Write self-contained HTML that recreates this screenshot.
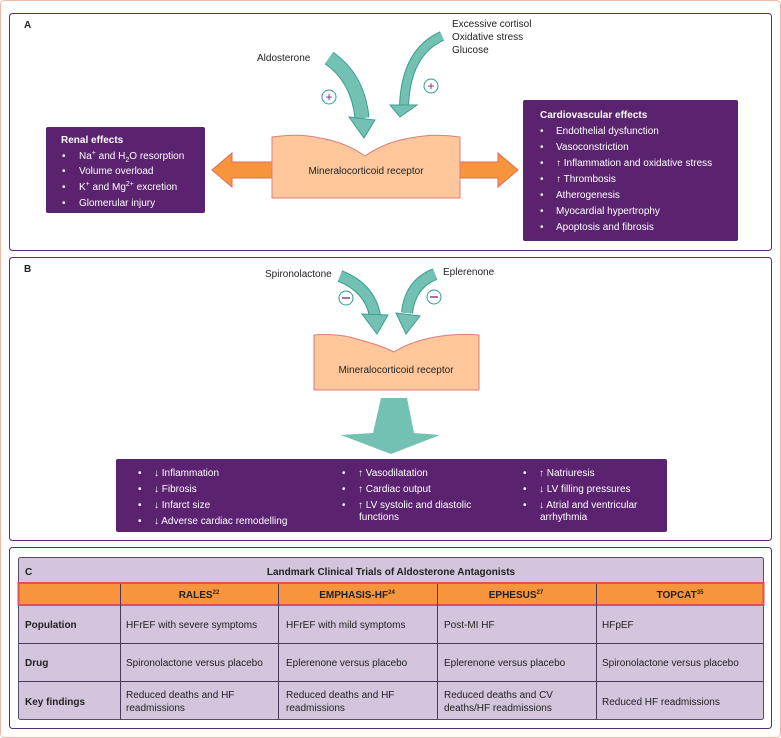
<!DOCTYPE html>
<html><head><meta charset="utf-8"><style>
html,body{margin:0;padding:0;background:#fff}
svg{display:block;font-family:"Liberation Sans",sans-serif;font-size:10px;fill:#222}
.w{fill:#fff}
.b{font-weight:bold}
</style></head><body>
<svg width="781" height="738" viewBox="0 0 781 738" xmlns="http://www.w3.org/2000/svg">
<rect x="0.5" y="0.5" width="780" height="737" rx="4" fill="#fff" stroke="#f0b8a8"/>
<!-- panels -->
<rect x="9.5" y="13.5" width="762" height="237" rx="3" fill="#fff" stroke="#5b2d6e"/>
<rect x="9.5" y="257.5" width="762" height="283" rx="3" fill="#fff" stroke="#5b2d6e"/>
<rect x="9.5" y="547.5" width="762" height="181" rx="3" fill="#fff" stroke="#5b2d6e"/>

<!-- PANEL A -->
<text x="24" y="28" class="b">A</text>
<text x="452" y="27">Excessive cortisol</text>
<text x="452" y="40">Oxidative stress</text>
<text x="452" y="53">Glucose</text>
<text x="257" y="61">Aldosterone</text>
<!-- aldo arrow -->
<path d="M329,58 Q358,78 362,118" fill="none" stroke="#3d9e8f" stroke-width="15"/>
<path d="M329,58 Q358,78 362,118" fill="none" stroke="#72c1b3" stroke-width="13"/>
<polygon points="349,117 375,120 364,138" fill="#72c1b3" stroke="#3d9e8f"/>
<!-- cortisol arrow -->
<path d="M442,36 Q406,52 404,106" fill="none" stroke="#3d9e8f" stroke-width="10"/>
<path d="M442,36 Q406,52 404,106" fill="none" stroke="#72c1b3" stroke-width="8"/>
<polygon points="390,105 417,105 400,117" fill="#72c1b3" stroke="#3d9e8f"/>
<circle cx="329" cy="97" r="7" fill="#fff" stroke="#2a9d8f"/>
<text x="329" y="101" text-anchor="middle" fill="#6b2a7a" font-size="12">+</text>
<circle cx="431" cy="86" r="7" fill="#fff" stroke="#2a9d8f"/>
<text x="431" y="90" text-anchor="middle" fill="#6b2a7a" font-size="12">+</text>
<!-- side arrows -->
<polygon points="274,162 232,162 232,153 212,170 232,187 232,178 274,178" fill="#f7943c" stroke="#e06a5a"/>
<polygon points="458,162 498,162 498,153 518,170 498,187 498,178 458,178" fill="#f7943c" stroke="#e06a5a"/>
<!-- MR box -->
<path d="M272,137 Q300,133 320,138 Q345,142 365,156 Q385,142 410,138 Q435,133 460,137 L460,198 L272,198 Z" fill="#fdc79b" stroke="#e07b7b"/>
<text x="366" y="174" text-anchor="middle">Mineralocorticoid receptor</text>
<!-- renal -->
<rect x="46" y="127" width="159" height="86" rx="2" fill="#5b2270"/>
<text x="61" y="143" class="w b">Renal effects</text>
<g class="w">
<text x="62" y="159">•</text><text x="79" y="159">Na<tspan font-size="7" dy="-4">+</tspan><tspan dy="4"> and H</tspan><tspan font-size="7" dy="3">2</tspan><tspan dy="-3">O resorption</tspan></text>
<text x="62" y="174">•</text><text x="79" y="174">Volume overload</text>
<text x="62" y="190">•</text><text x="79" y="190">K<tspan font-size="7" dy="-4">+</tspan><tspan dy="4"> and Mg</tspan><tspan font-size="7" dy="-4">2+</tspan><tspan dy="4"> excretion</tspan></text>
<text x="62" y="206">•</text><text x="79" y="206">Glomerular injury</text>
</g>
<!-- cardio -->
<rect x="523" y="100" width="215" height="141" rx="2" fill="#5b2270"/>
<text x="540" y="118" class="w b">Cardiovascular effects</text>
<g class="w">
<text x="540" y="134">•</text><text x="556" y="134">Endothelial dysfunction</text>
<text x="540" y="150">•</text><text x="556" y="150">Vasoconstriction</text>
<text x="540" y="166">•</text><text x="556" y="166">↑ Inflammation and oxidative stress</text>
<text x="540" y="182">•</text><text x="556" y="182">↑ Thrombosis</text>
<text x="540" y="198">•</text><text x="556" y="198">Atherogenesis</text>
<text x="540" y="214">•</text><text x="556" y="214">Myocardial hypertrophy</text>
<text x="540" y="230">•</text><text x="556" y="230">Apoptosis and fibrosis</text>
</g>

<!-- PANEL B -->
<text x="24" y="272" class="b">B</text>
<text x="265" y="277">Spironolactone</text>
<text x="443" y="275">Eplerenone</text>
<path d="M340,276 Q370,288 375,316" fill="none" stroke="#3d9e8f" stroke-width="12"/>
<path d="M340,276 Q370,288 375,316" fill="none" stroke="#72c1b3" stroke-width="10"/>
<polygon points="362,314 388,315 377,334" fill="#72c1b3" stroke="#3d9e8f"/>
<path d="M435,274 Q410,284 407,313" fill="none" stroke="#3d9e8f" stroke-width="12"/>
<path d="M435,274 Q410,284 407,313" fill="none" stroke="#72c1b3" stroke-width="10"/>
<polygon points="396,313 420,316 406,334" fill="#72c1b3" stroke="#3d9e8f"/>
<circle cx="346" cy="298" r="7" fill="#fff" stroke="#2a9d8f"/>
<line x1="342" y1="298" x2="350" y2="298" stroke="#6b2a7a" stroke-width="1.3"/>
<circle cx="434" cy="297" r="7" fill="#fff" stroke="#2a9d8f"/>
<line x1="430" y1="297" x2="438" y2="297" stroke="#6b2a7a" stroke-width="1.3"/>
<path d="M314,335 Q340,333 360,340 Q380,345 394,352 Q408,343 430,338 Q455,333 479,335 L479,390 L314,390 Z" fill="#fdc79b" stroke="#e07b7b"/>
<text x="396" y="373" text-anchor="middle">Mineralocorticoid receptor</text>
<polygon points="381,398 407,398 414,433 440,435 391,454 341,435 373,433" fill="#72c1b3"/>
<rect x="116" y="459" width="551" height="73" rx="2" fill="#5b2270"/>
<g class="w">
<text x="138" y="476">•</text><text x="154" y="476">↓ Inflammation</text>
<text x="138" y="492">•</text><text x="154" y="492">↓ Fibrosis</text>
<text x="138" y="508">•</text><text x="154" y="508">↓ Infarct size</text>
<text x="138" y="524">•</text><text x="154" y="524">↓ Adverse cardiac remodelling</text>
<text x="342" y="476">•</text><text x="358" y="476">↑ Vasodilatation</text>
<text x="342" y="492">•</text><text x="358" y="492">↑ Cardiac output</text>
<text x="342" y="508">•</text><text x="358" y="508">↑ LV systolic and diastolic</text>
<text x="359" y="520">functions</text>
<text x="523" y="476">•</text><text x="539" y="476">↑ Natriuresis</text>
<text x="523" y="492">•</text><text x="539" y="492">↓ LV filling pressures</text>
<text x="523" y="508">•</text><text x="539" y="508">↓ Atrial and ventricular</text>
<text x="540" y="520">arrhythmia</text>
</g>

<!-- PANEL C table -->
<rect x="18.5" y="557.5" width="745" height="162" rx="2" fill="#d2c5dc" stroke="#5b4a6e"/>
<rect x="18.5" y="583" width="745" height="22" fill="#f7943c" stroke="#d9534f" stroke-width="2"/>
<g stroke="#4a3a5a" stroke-width="1">
<line x1="120.5" y1="584" x2="120.5" y2="720"/>
<line x1="278.5" y1="584" x2="278.5" y2="720"/>
<line x1="437.5" y1="584" x2="437.5" y2="720"/>
<line x1="596.5" y1="584" x2="596.5" y2="720"/>
<line x1="19" y1="643.5" x2="763" y2="643.5"/>
<line x1="19" y1="681.5" x2="763" y2="681.5"/>
</g>
<text x="25" y="575" class="b">C</text>
<text x="391" y="575" text-anchor="middle" class="b">Landmark Clinical Trials of Aldosterone Antagonists</text>
<g class="b">
<text x="199" y="598" text-anchor="middle">RALES<tspan font-size="6" dy="-4">22</tspan></text>
<text x="357" y="598" text-anchor="middle">EMPHASIS-HF<tspan font-size="6" dy="-4">24</tspan></text>
<text x="516" y="598" text-anchor="middle">EPHESUS<tspan font-size="6" dy="-4">27</tspan></text>
<text x="680" y="598" text-anchor="middle">TOPCAT<tspan font-size="6" dy="-4">35</tspan></text>
<text x="25" y="628">Population</text>
<text x="25" y="666">Drug</text>
<text x="25" y="705">Key findings</text>
</g>
<text x="126" y="628">HFrEF with severe symptoms</text>
<text x="286" y="628">HFrEF with mild symptoms</text>
<text x="444" y="628">Post-MI HF</text>
<text x="602" y="628">HFpEF</text>
<text x="126" y="666">Spironolactone versus placebo</text>
<text x="286" y="666">Eplerenone versus placebo</text>
<text x="444" y="666">Eplerenone versus placebo</text>
<text x="602" y="666">Spironolactone versus placebo</text>
<text x="126" y="698">Reduced deaths and HF</text>
<text x="126" y="711">readmissions</text>
<text x="286" y="698">Reduced deaths and HF</text>
<text x="286" y="711">readmissions</text>
<text x="444" y="698">Reduced deaths and CV</text>
<text x="444" y="711">deaths/HF readmissions</text>
<text x="602" y="705">Reduced HF readmissions</text>
</svg>
</body></html>
